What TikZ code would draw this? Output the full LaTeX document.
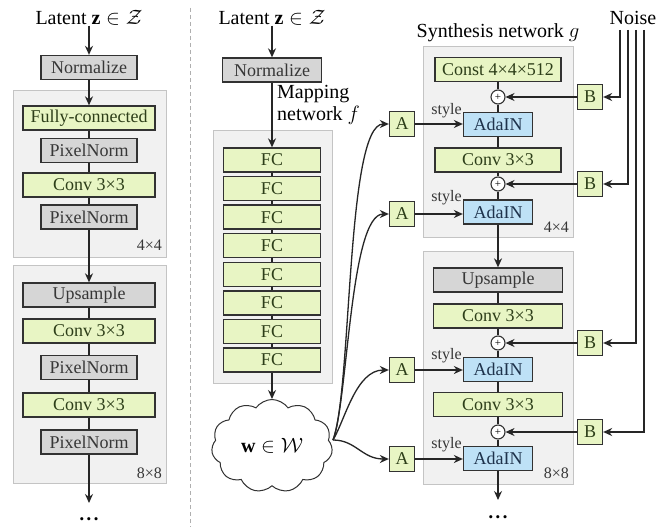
\documentclass[tikz,border=0pt]{standalone}
\usepackage{fontspec}
\setmainfont{Liberation Serif}
\usetikzlibrary{shapes.symbols,arrows.meta,calc}
\definecolor{gfill}{RGB}{232,245,196}
\definecolor{gtext}{RGB}{45,62,25}
\definecolor{grfill}{RGB}{214,214,214}
\definecolor{grtext}{RGB}{55,55,55}
\definecolor{bfill}{RGB}{190,225,246}
\definecolor{btext}{RGB}{30,50,75}
\definecolor{blkfill}{RGB}{241,241,241}
\definecolor{blkdraw}{RGB}{196,196,196}
\definecolor{bordc}{RGB}{50,50,50}
\definecolor{sepc}{RGB}{175,175,175}
\begin{document}
\begin{tikzpicture}[x=1pt,y=-1pt,
  box/.style={draw=bordc,line width=1.3pt,minimum height=24pt,inner sep=0pt,font=\rmfamily\fontsize{18}{20}\selectfont},
  gbox/.style={box,fill=gfill,text=gtext},
  graybox/.style={box,fill=grfill,text=grtext},
  bbox/.style={box,fill=bfill,text=btext},
  blockbg/.style={fill=blkfill,draw=blkdraw,line width=1pt},
  ttl/.style={font=\rmfamily\fontsize{20}{22}\selectfont,inner sep=0pt},
  lbl/.style={font=\rmfamily\fontsize{16}{18}\selectfont,inner sep=0pt,text=grtext},
  conn/.style={line width=1.3pt,draw=black!85},
  arr/.style={conn,-{Stealth[length=9pt,width=8pt]}},
  pluscirc/.style={circle,draw=bordc,line width=1.1pt,fill=white,minimum size=14pt,inner sep=0pt,font=\fontsize{11}{11}\selectfont},
  abox/.style={gbox,minimum width=25pt,minimum height=25pt},
  dots/.style={font=\rmfamily\fontsize{13}{13}\selectfont,inner sep=0pt}
]
\useasboundingbox (0,0) rectangle (668,527);
\fill[white] (0,0) rectangle (668,527);

% separator
\draw[sepc,line width=1pt,dash pattern=on 4pt off 3pt] (190,8) -- (190,527);

% ---------------- left column ----------------
\node[ttl] (t1) at (89,18) {Latent $\mathbf{z}\in\mathcal{Z}$};
\node[graybox,minimum width=96pt] (n1) at (89,67.5) {Normalize};
\draw[blockbg] (13,90) rectangle (166,257);
\node[gbox,minimum width=132pt] (fc) at (89,118) {Fully-connected};
\node[graybox,minimum width=96pt] (pn1) at (89,150.5) {PixelNorm};
\node[gbox,minimum width=132pt] (cv1) at (89,185) {Conv 3×3};
\node[graybox,minimum width=96pt] (pn2) at (89,217) {PixelNorm};
\node[lbl,anchor=east] (l44a) at (162,245) {4×4};
\draw[blockbg] (13,265) rectangle (166,483);
\node[graybox,minimum width=132pt] (up1) at (89,295) {Upsample};
\node[gbox,minimum width=132pt] (cv2) at (89,331) {Conv 3×3};
\node[graybox,minimum width=96pt] (pn3) at (89,367.5) {PixelNorm};
\node[gbox,minimum width=132pt] (cv3) at (89,405) {Conv 3×3};
\node[graybox,minimum width=96pt] (pn4) at (89,442) {PixelNorm};
\node[lbl,anchor=east] (l88a) at (162,473) {8×8};
\coordinate (e1) at (89,503);
\node[dots] (d1) at (89,521) {•\kern2.5pt•\kern2.5pt•};

\draw[arr] (t1) -- (n1);
\draw[arr] (n1) -- (fc);
\draw[conn] (fc) -- (pn1);
\draw[conn] (pn1) -- (cv1);
\draw[conn] (cv1) -- (pn2);
\draw[arr] (pn2) -- (up1);
\draw[conn] (up1) -- (cv2);
\draw[conn] (cv2) -- (pn3);
\draw[conn] (pn3) -- (cv3);
\draw[conn] (cv3) -- (pn4);
\draw[arr] (pn4) -- (e1);

% ---------------- middle column ----------------
\node[ttl] (t2) at (272,18) {Latent $\mathbf{z}\in\mathcal{Z}$};
\node[graybox,minimum width=99pt] (n2) at (272,70) {Normalize};
\node[ttl,anchor=north west,align=left] (mapt) at (277,85) {Mapping\\network $f$};
\draw[blockbg] (213,130) rectangle (332,383);
\foreach \i in {1,...,8}{
  \node[gbox,minimum width=97pt] (f\i) at (272,{160+28.57*(\i-1)}) {FC};
}
\node[cloud,cloud puffs=11,cloud puff arc=110,aspect=1.3,draw=bordc,line width=1pt,fill=white,
      minimum width=121pt,minimum height=93pt,inner sep=0pt,font=\rmfamily\fontsize{20}{22}\selectfont] (w) at (272,446) {$\mathbf{w}\in\mathcal{W}$};
\draw[arr] (t2) -- (n2);
\draw[arr] (n2) -- (f1);
\foreach \i [evaluate=\i as \j using int(\i+1)] in {1,...,7}{
  \draw[conn] (f\i) -- (f\j);
}
\draw[arr] (f8) -- (w);

% ---------------- A boxes ----------------
\node[abox] (a1) at (402,124) {A};
\node[abox] (a2) at (402,214) {A};
\node[abox] (a3) at (402,370) {A};
\node[abox] (a4) at (402,459) {A};
\coordinate (ws) at (333,440);
\draw[arr] (ws) .. controls (352,390) and (346,124) .. (a1.west);
\draw[arr] (ws) .. controls (348,400) and (350,214) .. (a2.west);
\draw[arr] (ws) .. controls (345,420) and (356,370) .. (a3.west);
\draw[arr] (ws) .. controls (356,440) and (362,459) .. (a4.west);

% ---------------- right column ----------------
\node[ttl] (t3) at (498,33) {Synthesis network $g$};
\node[ttl] (noise) at (633,18) {Noise};
\draw[blockbg] (423,47) rectangle (573,237);
\node[gbox,minimum width=126pt] (const) at (498,69.5) {Const 4×4×512};
\node[pluscirc] (p1) at (498,97) {+};
\node[bbox,minimum width=69pt] (ad1) at (498,124.5) {AdaIN};
\node[gbox,minimum width=126pt] (cv4) at (498,160) {Conv 3×3};
\node[pluscirc] (p2) at (498,184) {+};
\node[bbox,minimum width=69pt] (ad2) at (498,212) {AdaIN};
\node[lbl,anchor=east] (l44b) at (569,227) {4×4};
\draw[blockbg] (423,251) rectangle (573,484);
\node[graybox,minimum width=129pt] (up2) at (498,280) {Upsample};
\node[gbox,minimum width=129pt] (cv5) at (498,316) {Conv 3×3};
\node[pluscirc] (p3) at (498,343) {+};
\node[bbox,minimum width=69pt] (ad3) at (498,369.5) {AdaIN};
\node[gbox,minimum width=129pt] (cv6) at (498,404.5) {Conv 3×3};
\node[pluscirc] (p4) at (498,432) {+};
\node[bbox,minimum width=69pt] (ad4) at (498,458.5) {AdaIN};
\node[lbl,anchor=east] (l88b) at (569,473) {8×8};
\coordinate (e3) at (498,500);
\node[dots] (d3) at (498,519) {•\kern2.5pt•\kern2.5pt•};

\draw[conn] (const) -- (p1);
\draw[conn] (p1) -- (ad1);
\draw[conn] (ad1) -- (cv4);
\draw[conn] (cv4) -- (p2);
\draw[conn] (p2) -- (ad2);
\draw[arr] (ad2) -- (up2);
\draw[conn] (up2) -- (cv5);
\draw[conn] (cv5) -- (p3);
\draw[conn] (p3) -- (ad3);
\draw[conn] (ad3) -- (cv6);
\draw[conn] (cv6) -- (p4);
\draw[conn] (p4) -- (ad4);
\draw[arr] (ad4) -- (e3);

% style arrows
\foreach \k in {1,2,3,4}{
  \draw[arr] (a\k.east) -- (a\k.east -| ad\k.west);
  \node[lbl,anchor=south east] (st\k) at ($(ad\k.north west)+(-1,6)$) {style};
}

% B boxes and noise
\node[abox] (b1) at (590,97) {B};
\node[abox] (b2) at (590,184) {B};
\node[abox] (b3) at (590,343) {B};
\node[abox] (b4) at (590,432) {B};
\coordinate (nz1) at (620,30);
\coordinate (nz2) at (628,30);
\coordinate (nz3) at (636,30);
\coordinate (nz4) at (644,30);
\foreach \k in {1,2,3,4}{
  \draw[arr] (b\k.west) -- (p\k.east);
  \draw[arr] (nz\k) |- (b\k.east);
}
\end{tikzpicture}
\end{document}
